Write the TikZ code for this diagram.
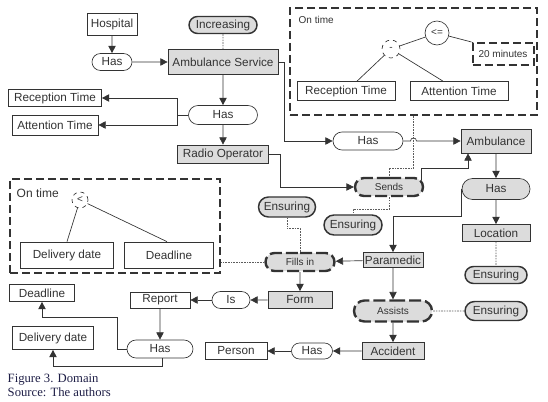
\documentclass[tikz,border=0pt]{standalone}
\usepackage{fontspec}
\setmainfont{Liberation Sans}
\newfontfamily\capfont{Liberation Serif}
\usetikzlibrary{shapes.misc,shapes.geometric,arrows.meta,calc}
\definecolor{lnc}{HTML}{333333}
\definecolor{fillg}{HTML}{DCDCDC}
\definecolor{capc}{HTML}{1E1E46}
\begin{document}
\begin{tikzpicture}[x=0.75pt,y=-0.75pt,
  font=\fontsize{8.8}{10}\selectfont, text=lnc,
  sz/.style 2 args={minimum width=#1*0.75pt, minimum height=#2*0.75pt, inner sep=0pt},
  bx/.style={draw=lnc, line width=0.5pt, fill=white},
  gbx/.style={bx, fill=fillg},
  rel/.style={rounded rectangle, draw=lnc, line width=0.5pt, fill=white},
  grel/.style={rel, fill=fillg},
  qual/.style={rounded rectangle, draw=lnc, line width=1.1pt, fill=fillg},
  drel/.style={rounded rectangle, draw=lnc, line width=1.8pt, dash pattern=on 9pt off 3pt, fill=fillg, font=\fontsize{7.5}{9}\selectfont},
  dbox/.style={draw=lnc, line width=1.5pt, dash pattern=on 6pt off 3pt},
  circ/.style={circle, draw=lnc, line width=0.5pt, inner sep=0pt, font=\fontsize{7.5}{9}\selectfont},
  conn/.style={draw=lnc, line width=0.5pt},
  arr/.style={conn, -{Triangle[length=5.5pt,width=5.5pt]}},
  dotl/.style={draw=lnc!80, line width=0.4pt, dash pattern=on 1.2pt off 0.8pt},
  small/.style={font=\fontsize{7.5}{9}\selectfont}
]
\useasboundingbox (0,0) rectangle (548,402);

% dashed groups
\node[dbox,sz={247}{107}] (ot1) at (413.5,61.5) {};
\node[anchor=west,small] (ot1l) at (294,20) {On time};
\node[dbox,sz={210}{94}] (ot2) at (115,226) {};
\node[anchor=west,font=\fontsize{9}{10}\selectfont] (ot2l) at (12,193) {On time};

% nodes
\node[bx,sz={50}{22}] (hosp) at (112,24) {Hospital};
\node[qual,sz={68}{17}] (incr) at (223,25) {Increasing};
\node[rel,sz={40}{17}] (has1) at (112,62) {Has};
\node[gbx,sz={110}{25}] (ambs) at (223,62) {Ambulance Service};
\node[rel,sz={69}{19}] (has2) at (223,115) {Has};
\node[bx,sz={93}{17}] (rect1) at (55,98) {Reception Time};
\node[bx,sz={86}{20}] (att1) at (55,125) {Attention Time};
\node[gbx,sz={91}{18}] (radio) at (223,154) {Radio Operator};

\node[circ,minimum size=24*0.75pt] (le) at (437,33) {<=};
\node[circ,dashed,minimum size=18*0.75pt] (minus) at (391,49) {-};
\node[dbox,sz={61}{22},small] (twenty) at (503,54) {20 minutes};
\node[bx,sz={98}{19}] (rect2) at (346,91) {Reception Time};
\node[bx,sz={98}{19}] (att2) at (459,91) {Attention Time};

\node[rel,sz={70}{18}] (has3) at (368,141) {Has};
\node[gbx,sz={70}{24}] (amb) at (496,141) {Ambulance};
\node[drel,sz={68}{18}] (sends) at (389,187) {Sends};
\node[qual,sz={58}{20}] (ensm) at (353,225) {Ensuring};
\node[grel,sz={68}{21}] (has4) at (496,189) {Has};
\node[gbx,sz={68}{17}] (loc) at (496,233) {Location};
\node[qual,sz={62}{17}] (ensr1) at (496,275) {Ensuring};
\node[gbx,sz={60}{15}] (param) at (393,260) {Paramedic};
\node[drel,sz={69}{18}] (fills) at (300,262) {Fills in};
\node[qual,sz={57}{20}] (ensl) at (287,207) {Ensuring};
\node[gbx,sz={64}{17}] (form) at (300,300) {Form};
\node[rel,sz={38}{17}] (is) at (231,300) {Is};
\node[bx,sz={60}{16}] (report) at (160,300) {Report};
\node[rel,sz={66}{18}] (has5) at (160,349) {Has};
\node[bx,sz={65}{17}] (dead) at (42,293) {Deadline};
\node[bx,sz={81}{23}] (deliv) at (53,338) {Delivery date};
\node[bx,sz={62}{17}] (person) at (236,351) {Person};
\node[rel,sz={41}{16}] (has6) at (312,351) {Has};
\node[gbx,sz={62}{17}] (acc) at (393,351) {Accident};
\node[drel,sz={78}{21}] (assists) at (393,311) {Assists};
\node[qual,sz={62}{19}] (ensr2) at (496,311) {Ensuring};

\node[circ,dashed,minimum size=16*0.75pt] (lt) at (80,200) {<};
\node[bx,sz={93}{26}] (deliv2) at (67,255) {Delivery date};
\node[bx,sz={89}{26}] (dead2) at (169,255) {Deadline};

% caption
\node[anchor=base west,font=\capfont\fontsize{9.5}{11}\selectfont,text=capc] (cap1) at (3,382) {Figure 3. Domain};
\node[anchor=base west,font=\capfont\fontsize{9.5}{11}\selectfont,text=capc] (cap2) at (3,396) {Source: The authors};

% connectors
\draw[arr] (hosp) -- (has1);
\draw[arr] (has1) -- (ambs);
\draw[dotl] (incr) -- (ambs);
\draw[arr] (ambs) -- (has2);
\draw[arr] (has2) -- (radio);
\coordinate (j1) at (177,115);
\draw[conn] (has2.west) -- (j1);
\draw[arr] (j1) |- (rect1.east);
\draw[arr] (j1) |- (att1.east);
\draw[arr] (ambs.east) -- ++(6,0) |- (has3.west);
\draw[arr] (has3.east) -- (410.5,141) .. controls (410.5,137) and (416.5,137) .. (416.5,141) -- (amb.west);
\draw[dotl] (ot1.south) -- ++(0,52) -| (sends.north);
\draw[arr] (radio.east) -- ++(11,0) |- (sends.west);
\coordinate (a1) at (468,168);
\draw[arr] (sends.13) |- (a1) -- (a1 |- amb.south);
\draw[dotl] (sends.south) -- ++(0,12) -| (ensm.north);
\draw[arr] (amb) -- (has4);
\draw[arr] (has4) -- (loc);
\draw[dotl] (loc) -- (ensr1);
\draw[arr] (has4.west) -- ++(0,27) -| (param.north);
\draw[arr] (param) -- (fills);
\draw[dotl] (ensl.south) -- ++(0,11) -| (fills.north);
\draw[arr] (fills) -- (form);
\draw[arr] (form) -- (is);
\draw[arr] (is) -- (report);
\draw[arr] (report) -- (has5);
\draw[arr] (has5.west) -- ++(-9,0) |- ($(dead.south)+(0,15)$) -- (dead.south);
\draw[arr] ($(has5.south)+(2,0)$) -- ++(0,8) -| (deliv.south);
\draw[dotl] (fills.west) -- (fills.west -| ot2.east);
\draw[arr] (param) -- (assists);
\draw[arr] (assists) -- (acc);
\draw[dotl] (assists) -- (ensr2);
\draw[arr] (acc) -- (has6);
\draw[arr] (has6) -- (person);

\draw[conn] (le) -- (minus);
\draw[conn] (le) -- (twenty.north west);
\draw[conn] (minus) -- ($(rect2.north)+(11,0)$);
\draw[conn] (minus) -- ($(att2.north)+(-16,0)$);
\draw[conn] (lt) -- (deliv2.north);
\draw[conn] (lt) -- ($(dead2.north)+(-2,0)$);
\end{tikzpicture}
\end{document}
